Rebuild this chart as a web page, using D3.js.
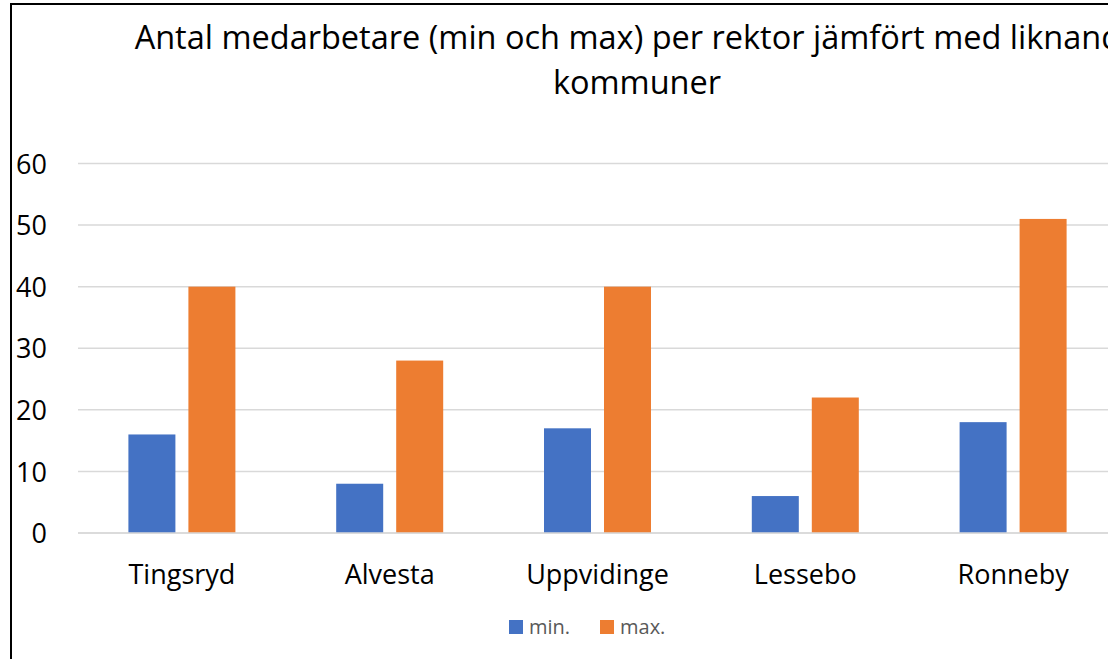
<!DOCTYPE html>
<html>
<head>
<meta charset="utf-8">
<script src="https://cdn.jsdelivr.net/npm/d3@7"></script>
<style>
  html, body { margin: 0; padding: 0; background: #fff; overflow: hidden; }
  svg { display: block; }
</style>
</head>
<body>
<svg id="chart" width="1108" height="659"></svg>
<script>
const categories = ["Tingsryd", "Alvesta", "Uppvidinge", "Lessebo", "Ronneby"];
const series = ["min.", "max."];
const minValues = [16, 8, 17, 6, 18];
const maxValues = [40, 28, 40, 22, 51];
const yTicks = [0, 10, 20, 30, 40, 50, 60];
const colors = ["#4472C4", "#ED7D31"];
const titleLines = ["Antal medarbetare (min och max) per rektor jämfört med liknande", "kommuner"];

const font = "'Open Sans', sans-serif";
const svg = d3.select("#chart");

svg.append("rect")
  .attr("x", 11).attr("y", 4)
  .attr("width", 1252).attr("height", 700)
  .attr("fill", "#fff").attr("stroke", "#000").attr("stroke-width", 2);

const centerX = 637;
svg.append("g").selectAll("text").data(titleLines).join("text")
  .attr("x", centerX)
  .attr("y", (d, i) => 49 + i * 45)
  .attr("text-anchor", "middle")
  .attr("font-family", font)
  .attr("font-size", 32.5)
  .attr("fill", "#000")
  .text(d => d);

const y = d3.scaleLinear().domain([0, 60]).range([533, 163.5]);
const x0 = d3.scaleBand().domain(categories).range([78, 1117]).padding(0);
const x1 = d3.scaleBand().domain(series).range([0, 107]).paddingInner(0.2167).paddingOuter(0);

svg.append("g").selectAll("line").data(yTicks).join("line")
  .attr("x1", 78).attr("x2", 1200)
  .attr("y1", d => y(d)).attr("y2", d => y(d))
  .attr("stroke", "#d9d9d9").attr("stroke-width", 1.5);

const yAxis = d3.axisLeft(y).tickValues(yTicks).tickSize(0).tickPadding(0);
const gy = svg.append("g").attr("transform", "translate(47,0)").call(yAxis);
gy.select(".domain").remove();
gy.selectAll("text")
  .attr("font-family", font).attr("font-size", 27).attr("fill", "#000")
  .attr("dy", "0.36em");

const data = categories.map((c, i) => ({ cat: c, vals: [minValues[i], maxValues[i]] }));
const groups = svg.append("g").selectAll("g").data(data).join("g")
  .attr("transform", d => `translate(${x0(d.cat) + x0.bandwidth() / 2 - 53.5},0)`);
groups.selectAll("rect").data(d => d.vals.map((v, j) => ({ s: series[j], v, j })))
  .join("rect")
  .attr("x", d => x1(d.s))
  .attr("width", x1.bandwidth())
  .attr("y", d => y(d.v))
  .attr("height", d => y(0) - y(d.v))
  .attr("fill", d => colors[d.j]);

svg.append("line").attr("x1", 78).attr("x2", 1200)
  .attr("y1", y(0)).attr("y2", y(0))
  .attr("stroke", "#d9d9d9").attr("stroke-width", 1.5);

const xAxis = d3.axisBottom(x0).tickSize(0).tickPadding(0);
const gx = svg.append("g").attr("transform", "translate(0,584)").call(xAxis);
gx.select(".domain").remove();
gx.selectAll("text")
  .attr("font-family", font).attr("font-size", 27).attr("fill", "#000")
  .attr("dy", 0);

const legendItems = [{ s: series[0], c: colors[0], x: 509 }, { s: series[1], c: colors[1], x: 600 }];
const lg = svg.append("g").selectAll("g").data(legendItems).join("g")
  .attr("transform", d => `translate(${d.x},620)`);
lg.append("rect").attr("width", 14).attr("height", 14).attr("fill", d => d.c);
lg.append("text").attr("x", 20).attr("y", 14)
  .attr("font-family", font).attr("font-size", 20).attr("fill", "#595959")
  .text(d => d.s);
</script>
</body>
</html>
